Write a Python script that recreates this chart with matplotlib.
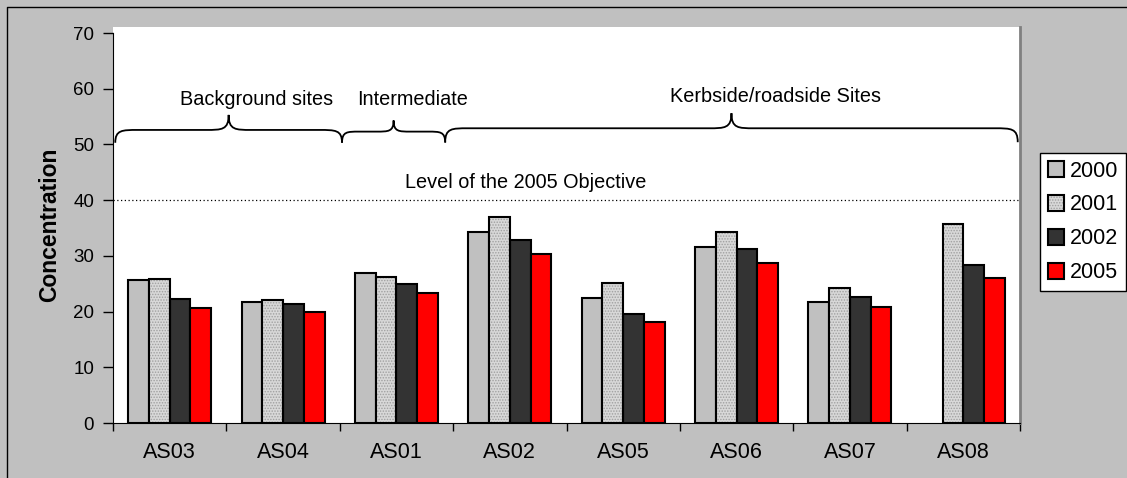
import matplotlib.pyplot as plt
import numpy as np
from matplotlib.patches import Patch, PathPatch
from matplotlib.path import Path
from matplotlib.legend_handler import HandlerTuple
from matplotlib.lines import Line2D

plt.rcParams["font.family"] = ["Liberation Sans", "DejaVu Sans"]
plt.rcParams["hatch.linewidth"] = 0.7

sites = ["AS03", "AS04", "AS01", "AS02", "AS05", "AS06", "AS07", "AS08"]
years = ["2000", "2001", "2002", "2005"]

conc_2000 = [25.6, 21.8, 27.0, 34.2, 22.4, 31.6, 21.8, np.nan]
conc_2001 = [25.9, 22.1, 26.2, 37.0, 25.2, 34.3, 24.2, 35.8]
conc_2002 = [22.2, 21.4, 24.9, 32.9, 19.6, 31.3, 22.7, 28.3]
conc_2005 = [20.7, 20.0, 23.3, 30.4, 18.1, 28.8, 20.8, 26.0]

objective_2005 = 40

group_labels = ["Background sites", "Intermediate", "Kerbside/roadside Sites"]

W, H = 1127, 478
fig = plt.figure(figsize=(W / 100, H / 100), dpi=100)
fig.patch.set_facecolor("#C0C0C0")

# outer chart border (left and top)
fig.add_artist(Line2D([7 / W, 7 / W, 1], [0, 1 - 7 / H, 1 - 7 / H],
                      transform=fig.transFigure, color="black", lw=1))

ax = fig.add_axes([113 / W, 1 - 423 / H, (1020 - 113) / W, (423 - 27) / H])
ax.set_facecolor("white")

x = np.arange(len(sites))
bw = 0.183
offsets = (np.arange(4) - 1.5) * bw

ax.bar(x + offsets[0], conc_2000, width=bw, color="#C0C0C0",
       edgecolor="black", linewidth=1.5, zorder=3)
# 2001: speckled fill, then the black outline on top
ax.bar(x + offsets[1], conc_2001, width=bw, color="#D8D8D8", hatch="......",
       edgecolor="#A0A0A0", linewidth=0, zorder=3)
ax.bar(x + offsets[1], conc_2001, width=bw, fill=False,
       edgecolor="black", linewidth=1.5, zorder=4)
ax.bar(x + offsets[2], conc_2002, width=bw, color="#333333",
       edgecolor="black", linewidth=1.5, zorder=3)
ax.bar(x + offsets[3], conc_2005, width=bw, color="#FF0000",
       edgecolor="black", linewidth=1.5, zorder=3)

ax.axhline(objective_2005, color="black", lw=0.9, linestyle=(0, (1, 2)), zorder=2)
ax.text(3.14, 43.1, "Level of the 2005 Objective", ha="center", va="center",
        fontsize=14.3)


def brace(ax, x0, x1, y_end, y_mid, y_tip, curl):
    xc = (x0 + x1) / 2
    verts = [
        (x0, y_end), (x0, y_mid), (x0 + curl * 0.3, y_mid), (x0 + curl, y_mid),
        (xc - curl, y_mid),
        (xc - curl * 0.3, y_mid), (xc, y_mid), (xc, y_tip),
        (xc, y_mid), (xc + curl * 0.3, y_mid), (xc + curl, y_mid),
        (x1 - curl, y_mid),
        (x1 - curl * 0.3, y_mid), (x1, y_mid), (x1, y_end),
    ]
    codes = [Path.MOVETO, Path.CURVE4, Path.CURVE4, Path.CURVE4,
             Path.LINETO,
             Path.CURVE4, Path.CURVE4, Path.CURVE4,
             Path.CURVE4, Path.CURVE4, Path.CURVE4,
             Path.LINETO,
             Path.CURVE4, Path.CURVE4, Path.CURVE4]
    ax.add_patch(PathPatch(Path(verts, codes), fill=False, lw=1.3,
                           edgecolor="black", clip_on=False, zorder=5))


brace(ax, -0.48, 1.52, 50.3, 52.6, 55.3, 0.2)
brace(ax, 1.52, 2.43, 50.3, 52.3, 54.3, 0.15)
brace(ax, 2.43, 7.48, 50.4, 52.9, 55.6, 0.2)

ax.text(0.77, 58.0, group_labels[0], ha="center", va="center", fontsize=14.3)
ax.text(2.146, 58.0, group_labels[1], ha="center", va="center", fontsize=14.3)
ax.text(5.34, 58.6, group_labels[2], ha="center", va="center", fontsize=14.3)

# axes
ax.set_xlim(-0.5, len(sites) - 0.5)
ax.set_ylim(0, 70 * 396 / 390)
ax.set_yticks(np.arange(0, 71, 10))
ax.tick_params(axis="y", direction="out", length=7, width=1, labelsize=13.5, pad=6.5)
ax.set_xticks(x)
ax.set_xticklabels(sites, fontsize=15.5)
ax.set_xticks(np.arange(-0.5, len(sites)), minor=True)
ax.tick_params(axis="x", which="major", length=0, pad=14)
ax.tick_params(axis="x", which="minor", direction="out", length=6, width=1)
ax.spines["left"].set_bounds(0, 70)
ax.spines["top"].set_visible(False)
ax.spines["right"].set_color("#808080")
ax.spines["right"].set_linewidth(2)
ax.set_ylabel("Concentration", fontsize=16.5, fontweight="bold", labelpad=9)

# legend
h2000 = Patch(facecolor="#C0C0C0", edgecolor="black", lw=1.5)
h2001 = (Patch(facecolor="#D8D8D8", hatch="......", edgecolor="#A0A0A0", lw=0),
         Patch(fill=False, edgecolor="black", lw=1.5))
h2002 = Patch(facecolor="#333333", edgecolor="black", lw=1.5)
h2005 = Patch(facecolor="#FF0000", edgecolor="black", lw=1.5)
leg = fig.legend([h2000, h2001, h2002, h2005], years,
                 handler_map={tuple: HandlerTuple(ndivide=1, pad=0)},
                 loc="upper left", bbox_to_anchor=(1040 / W, 1 - 153 / H),
                 fontsize=15.5, handlelength=0.75, handleheight=0.75,
                 handletextpad=0.3, labelspacing=0.6, borderpad=0.35,
                 borderaxespad=0, fancybox=False, framealpha=1,
                 edgecolor="black")
leg.get_frame().set_linewidth(1)

fig.savefig("out.png", dpi=100, facecolor=fig.get_facecolor())
